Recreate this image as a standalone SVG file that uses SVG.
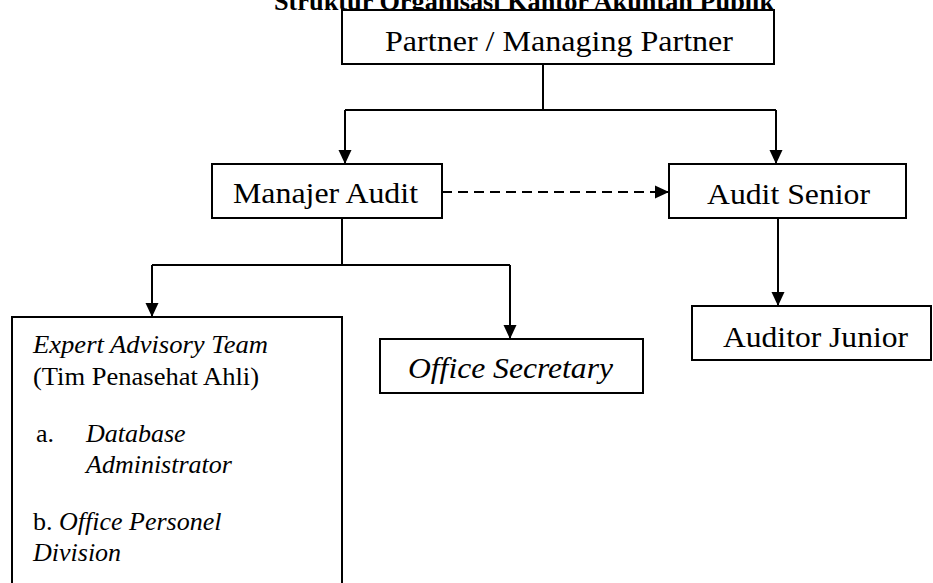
<svg xmlns="http://www.w3.org/2000/svg" width="933" height="583" viewBox="0 0 933 583">
<style>
.box{fill:#fff;stroke:#000;stroke-width:2}
.ln{fill:none;stroke:#000;stroke-width:2}
.t{font-family:"Liberation Serif","Times New Roman",serif;font-size:30px;fill:#000}
.s{font-family:"Liberation Serif","Times New Roman",serif;font-size:26px;fill:#000}
.i{font-style:italic}
</style>
<defs>
<marker id="ah" markerUnits="userSpaceOnUse" markerWidth="14" markerHeight="16" viewBox="0 0 14 16" refX="14" refY="8" orient="auto">
<path d="M0,1.5 L14,8 L0,14.5 Z" fill="#000"/>
</marker>
</defs>
<text x="274" y="10" font-family="Liberation Serif,Times New Roman,serif" font-size="26" font-weight="bold" textLength="500" lengthAdjust="spacingAndGlyphs">Struktur Organisasi Kantor Akuntan Publik</text>
<g id="connectors">
<path class="ln" d="M543 64 V110 M345 110 H776 M342 218 V265 M152 265 H510"/>
<path class="ln" d="M345 110 V164" marker-end="url(#ah)"/>
<path class="ln" d="M776 110 V164" marker-end="url(#ah)"/>
<path class="ln" d="M152 265 V317" marker-end="url(#ah)"/>
<path class="ln" d="M510 265 V339" marker-end="url(#ah)"/>
<path class="ln" d="M778 218 V306" marker-end="url(#ah)"/>
<path class="ln" d="M442 192 H669" stroke-dasharray="10 6" marker-end="url(#ah)"/>
</g>
<g id="partner">
<rect class="box" x="342" y="10" width="432" height="54"/>
<text class="t" x="385" y="51" textLength="348" lengthAdjust="spacingAndGlyphs">Partner / Managing Partner</text>
</g>
<g id="manajer">
<rect class="box" x="212" y="164" width="230" height="54"/>
<text class="t" x="233" y="203" textLength="185" lengthAdjust="spacingAndGlyphs">Manajer Audit</text>
</g>
<g id="senior">
<rect class="box" x="669" y="164" width="237" height="54"/>
<text class="t" x="707" y="204" textLength="163" lengthAdjust="spacingAndGlyphs">Audit Senior</text>
</g>
<g id="junior">
<rect class="box" x="692" y="306" width="239" height="54"/>
<text class="t" x="723" y="347" textLength="185" lengthAdjust="spacingAndGlyphs">Auditor Junior</text>
</g>
<g id="secretary">
<rect class="box" x="380" y="339" width="263" height="54"/>
<text class="t i" x="408" y="378" textLength="205" lengthAdjust="spacingAndGlyphs">Office Secretary</text>
</g>
<g id="expert">
<path class="ln" d="M12 590 V317 H342 V590"/>
<text class="s i" x="33" y="353" textLength="235" lengthAdjust="spacingAndGlyphs">Expert Advisory Team</text>
<text class="s" x="33" y="385" textLength="226" lengthAdjust="spacingAndGlyphs">(Tim Penasehat Ahli)</text>
<text class="s" x="36" y="442">a.</text>
<text class="s i" x="86" y="442">Database</text>
<text class="s i" x="86" y="473">Administrator</text>
<text class="s" x="33" y="530">b. <tspan class="i">Office Personel</tspan></text>
<text class="s i" x="33" y="561">Division</text>
</g>
</svg>
